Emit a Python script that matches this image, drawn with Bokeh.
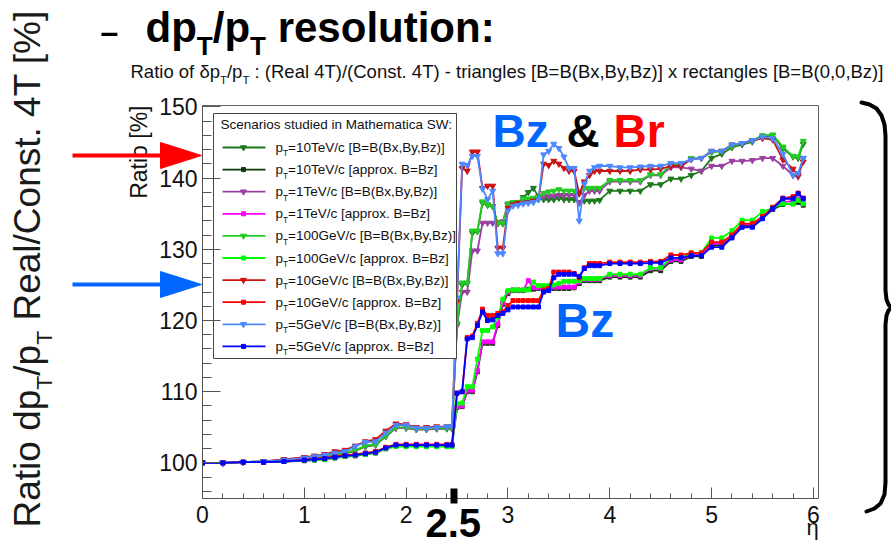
import math
from bokeh.plotting import figure
from bokeh.models import FixedTicker, Range1d, ColumnDataSource
from bokeh.core.properties import value
from bokeh.embed import file_html
from bokeh.resources import INLINE

FONT = "Liberation Sans"

# ---------------- data ----------------
ETA = [0.0, 0.2, 0.4, 0.6, 0.8, 1.0, 1.1, 1.2, 1.3, 1.4, 1.5, 1.6, 1.7, 1.8, 1.9, 2.0, 2.1, 2.2, 2.3, 2.4, 2.45,
       2.5, 2.55, 2.6, 2.65, 2.7, 2.75, 2.8, 2.85, 2.9, 2.95, 3.0, 3.05, 3.1, 3.15, 3.2, 3.25, 3.3, 3.35, 3.4,
       3.45, 3.5, 3.55, 3.6, 3.65, 3.7, 3.75, 3.8, 3.85, 3.9,
       4.0, 4.1, 4.2, 4.3, 4.4, 4.5, 4.6, 4.7, 4.8, 4.9, 5.0, 5.1, 5.2, 5.3, 5.4, 5.5, 5.6, 5.7, 5.8, 5.85, 5.9]

PT10TEV_FULL = [100.0, 100.0, 100.1, 100.2, 100.4, 100.6, 100.8, 100.9, 101.2, 101.3, 101.7, 102.3, 102.5, 103.7, 104.9, 104.9, 104.7, 104.7, 104.8, 104.8, 104.8,
                119.5, 125.0, 125.2, 132.3, 132.5, 136.5, 136.2, 136.0, 133.6, 133.6, 136.2, 136.5, 136.6, 137.3, 138.0, 138.6, 137.4, 137.0, 137.0, 137.0, 137.2, 137.0, 137.0, 137.0, 136.6, 136.8, 136.8, 136.8, 136.9,
                138.2, 138.2, 138.2, 138.2, 139.1, 139.1, 139.9, 139.9, 140.4, 141.0, 142.8, 143.4, 144.3, 144.7, 145.1, 145.8, 146.0, 144.2, 143.0, 142.8, 144.8]
PT10TEV_APPROX = [100.0, 100.0, 100.1, 100.1, 100.2, 100.3, 100.4, 100.5, 100.7, 100.9, 101.0, 101.2, 101.4, 102.0, 102.4, 102.5, 102.4, 102.4, 102.4, 102.4, 102.4,
                  107.8, 107.9, 110.0, 110.0, 112.8, 116.8, 116.8, 116.8, 119.3, 122.3, 123.8, 124.2, 124.2, 124.2, 124.4, 124.4, 124.5, 124.5, 124.5, 124.5, 124.5, 124.5, 124.5, 124.6, 125.2, 125.6, 125.6, 125.6, 125.6,
                  126.1, 126.1, 126.1, 126.1, 127.0, 127.0, 128.3, 128.3, 129.0, 129.0, 130.6, 130.6, 131.8, 133.3, 133.3, 134.4, 135.6, 136.3, 136.4, 136.6, 136.2]
PT1TEV_FULL = [100.0, 100.0, 100.1, 100.2, 100.4, 100.6, 100.8, 101.0, 101.2, 101.4, 101.8, 102.3, 102.6, 103.8, 104.9, 104.9, 104.7, 104.7, 104.8, 104.9, 104.9,
               119.3, 124.0, 124.0, 129.8, 129.8, 133.7, 133.7, 133.7, 133.8, 133.9, 136.4, 136.5, 136.5, 136.8, 136.9, 137.0, 137.2, 137.4, 137.5, 137.5, 137.6, 137.6, 137.6, 137.6, 136.5, 137.6, 138.2, 138.2, 138.2,
               139.5, 139.5, 139.5, 139.5, 140.4, 140.4, 141.5, 141.5, 141.3, 141.0, 141.7, 141.7, 142.4, 142.4, 142.5, 142.8, 142.8, 141.7, 140.4, 140.2, 142.8]
PT1TEV_APPROX = [100.0, 100.0, 100.1, 100.1, 100.2, 100.4, 100.5, 100.6, 100.7, 100.9, 101.0, 101.2, 101.4, 102.0, 102.4, 102.4, 102.4, 102.4, 102.4, 102.4, 102.4,
                 107.9, 108.0, 110.2, 110.2, 113.0, 117.0, 117.0, 117.0, 119.5, 122.5, 124.0, 124.3, 124.3, 124.3, 125.6, 124.6, 124.6, 124.7, 124.7, 124.7, 124.7, 124.7, 124.7, 124.7, 125.4, 125.8, 125.8, 125.8, 125.8,
                 126.3, 126.3, 126.3, 126.3, 127.3, 127.3, 128.5, 128.5, 129.2, 129.2, 130.8, 130.8, 132.0, 133.5, 133.5, 134.6, 135.8, 136.6, 136.8, 137.0, 136.4]
PT100GEV_FULL = [100.0, 100.0, 100.1, 100.2, 100.4, 100.7, 100.8, 101.0, 101.2, 101.4, 101.8, 102.4, 102.6, 103.8, 105.0, 105.0, 104.8, 104.8, 104.9, 104.9, 104.9,
                 119.6, 125.3, 125.3, 132.6, 132.6, 136.7, 136.3, 136.0, 133.7, 133.7, 136.4, 136.6, 136.6, 137.1, 137.1, 137.2, 137.3, 137.9, 138.1, 138.2, 138.4, 138.2, 138.2, 138.2, 138.0, 138.6, 138.6, 138.6, 138.6,
                 139.7, 139.7, 139.7, 139.7, 140.5, 140.5, 141.9, 141.9, 142.8, 142.8, 143.6, 143.8, 144.5, 144.9, 145.3, 146.0, 146.1, 144.4, 143.1, 143.0, 145.2]
PT100GEV_APPROX = [100.0, 100.0, 100.1, 100.1, 100.2, 100.4, 100.4, 100.5, 100.7, 100.9, 101.0, 101.2, 101.4, 102.0, 102.3, 102.3, 102.3, 102.3, 102.3, 102.3, 102.3,
                   108.3, 108.4, 110.7, 110.7, 114.6, 118.6, 118.6, 119.1, 120.5, 123.0, 124.2, 124.3, 124.3, 124.3, 124.3, 125.4, 124.9, 124.9, 124.9, 125.0, 125.2, 125.5, 125.5, 125.5, 125.6, 125.9, 125.9, 125.9, 125.9,
                   126.5, 126.5, 126.5, 126.5, 127.4, 127.4, 128.8, 128.8, 129.5, 129.5, 131.6, 131.6, 132.6, 134.1, 134.1, 135.3, 135.8, 136.4, 136.4, 136.9, 136.4]
PT10GEV_FULL = [100.0, 100.0, 100.1, 100.2, 100.5, 100.8, 101.0, 101.2, 101.6, 101.8, 102.4, 103.0, 103.3, 104.5, 105.5, 105.4, 105.0, 105.0, 105.1, 105.1, 105.1,
                122.7, 141.4, 141.0, 143.7, 143.7, 138.6, 138.9, 138.9, 130.2, 130.2, 135.8, 136.3, 136.5, 136.5, 136.6, 136.8, 137.0, 142.0, 141.8, 142.4, 142.0, 141.4, 141.0, 141.0, 137.8, 139.5, 140.4, 141.0, 141.0,
                141.0, 141.0, 141.0, 141.2, 141.2, 141.3, 141.7, 141.7, 142.6, 142.8, 143.8, 143.8, 144.7, 144.9, 145.3, 145.6, 145.4, 142.6, 141.3, 140.4, 142.3]
PT10GEV_APPROX = [100.0, 100.0, 100.1, 100.1, 100.3, 100.5, 100.6, 100.7, 100.9, 101.1, 101.2, 101.4, 101.6, 102.2, 102.6, 102.6, 102.6, 102.6, 102.6, 102.6, 102.6,
                  109.8, 110.0, 117.6, 117.8, 119.6, 121.6, 120.7, 120.7, 121.0, 121.2, 122.1, 122.8, 122.8, 122.8, 122.8, 122.8, 122.8, 124.3, 124.5, 126.8, 126.8, 126.8, 126.8, 126.6, 126.0, 127.4, 128.0, 128.0, 128.0,
                  128.2, 128.2, 128.2, 128.2, 128.3, 128.3, 129.2, 129.2, 129.5, 129.5, 131.0, 131.0, 132.0, 133.6, 133.6, 134.6, 135.9, 137.2, 137.4, 137.9, 137.2]
PT5GEV_FULL = [100.0, 100.0, 100.1, 100.2, 100.4, 100.7, 100.9, 101.1, 101.4, 101.6, 102.3, 102.9, 103.0, 104.2, 105.3, 105.3, 104.9, 104.9, 105.0, 105.1, 105.1,
               123.2, 142.0, 141.8, 143.1, 143.1, 138.5, 137.0, 138.2, 129.4, 129.4, 135.4, 136.1, 136.2, 136.4, 136.5, 136.6, 137.0, 143.3, 143.8, 144.8, 144.2, 143.0, 141.4, 141.4, 134.0, 139.2, 141.0, 141.5, 141.7,
               141.7, 141.5, 141.5, 141.6, 141.7, 141.7, 142.1, 142.1, 142.6, 142.8, 143.8, 143.8, 144.7, 144.9, 145.3, 145.8, 145.6, 143.4, 140.4, 140.7, 142.8]
PT5GEV_APPROX = [100.0, 100.0, 100.1, 100.1, 100.2, 100.4, 100.5, 100.6, 100.8, 101.0, 101.1, 101.3, 101.5, 102.1, 102.5, 102.5, 102.5, 102.5, 102.5, 102.5, 102.5,
                 109.8, 110.0, 117.4, 117.6, 119.3, 121.2, 120.0, 120.1, 120.7, 121.0, 121.5, 121.9, 121.9, 121.9, 121.9, 121.9, 121.9, 124.0, 124.2, 126.0, 126.5, 126.5, 126.5, 126.5, 126.2, 127.3, 127.7, 127.7, 127.7,
                 128.0, 128.0, 128.0, 128.0, 128.1, 128.1, 128.8, 128.8, 129.1, 129.1, 130.3, 130.3, 131.6, 133.1, 133.1, 134.3, 135.7, 137.1, 137.1, 137.8, 137.1]

LEGEND_LABELS = ["=10TeV/c [B=B(Bx,By,Bz)]", "=10TeV/c [approx. B=Bz]",
                 "=1TeV/c [B=B(Bx,By,Bz)]", "=1TeV/c [approx. B=Bz]",
                 "=100GeV/c [B=B(Bx,By,Bz)]", "=100GeV/c [approx. B=Bz]",
                 "=10GeV/c [B=B(Bx,By,Bz)]", "=10GeV/c [approx. B=Bz]",
                 "=5GeV/c [B=B(Bx,By,Bz)]", "=5GeV/c [approx. B=Bz]"]
SERIES_VALUES = [PT10TEV_FULL, PT10TEV_APPROX, PT1TEV_FULL, PT1TEV_APPROX, PT100GEV_FULL,
                 PT100GEV_APPROX, PT10GEV_FULL, PT10GEV_APPROX, PT5GEV_FULL, PT5GEV_APPROX]
COLORS = ["#1f7a1f", "#0b3b0b", "#9b40a3", "#ff00ff", "#22cc22",
          "#00ff00", "#cc1111", "#ff0000", "#4d88ff", "#0000ff"]
FULL_B = [True, False, True, False, True, False, True, False, True, False]

X_TICKS = [0, 1, 2, 3, 4, 5, 6]
Y_TICKS = [100, 110, 120, 130, 140, 150]

for v in SERIES_VALUES:
    assert len(v) == len(ETA), len(v)

# ---------------- layout helpers ----------------
W, H = 891, 547
FL, FR, FT, FB = 202, 818, 105, 498          # frame edges in picture pixels
X0, X1, Y0, Y1 = 0.0, 6.05, 95.0, 150.2
KB = 0.37                                     # baseline correction of the text glyph (em)


def dx(px):
    return X0 + (px - FL) * (X1 - X0) / (FR - FL)


def dy(py):
    return Y1 - (py - FT) * (Y1 - Y0) / (FB - FT)


REG = {' ': .278, '!': .278, '%': .889, '&': .667, '(': .333, ')': .333, ',': .278, '-': .333, '.': .278,
       '/': .278, ':': .278, '=': .584, '[': .278, ']': .278, 'A': .667, 'B': .667, 'C': .722, 'M': .833,
       'R': .722, 'S': .667, 'T': .611, 'V': .667, 'W': .944, 'c': .5, 'f': .278, 'i': .222, 'l': .222,
       'm': .833, 'r': .333, 's': .5, 't': .278, 'x': .5, 'y': .5, 'z': .5, 'k': .5, 'j': .222, 'v': .5}
BOLD = {' ': .278, ':': .333, '/': .278, '.': .278, 'd': .611, 'p': .611, 'r': .389, 's': .556, 'o': .611,
        'l': .278, 'u': .611, 't': .333, 'i': .278, 'n': .611, 'T': .611, 'B': .722, 'z': .5, '&': .722}


def tw(text, bold=False):
    table = BOLD if bold else REG
    return sum(table.get(c, .556) for c in text)


TXT = dict(x=[], y=[], text=[], size=[], style=[], color=[], angle=[])


def run(parts, x_px, y_px, size, bold=False, color="black", angle=0.0):
    """Lay out a run of text pieces (subscripts allowed); y_px is the baseline."""
    cur = 0.0
    for text, sub in parts:
        s = size * 0.62 if sub else size
        off = size * 0.3 if sub else 0.0
        lead = len(text) - len(text.lstrip(" "))
        cur += lead * 0.278 * s
        text = text.lstrip(" ")
        if angle == 0.0:
            lx, ly = x_px + cur, y_px + off - KB * s
        else:
            lx, ly = x_px + off - KB * s, y_px - cur
        TXT["x"].append(dx(lx))
        TXT["y"].append(dy(ly))
        TXT["text"].append(text)
        TXT["size"].append(f"{s:.1f}px")
        TXT["style"].append("bold" if bold else "normal")
        TXT["color"].append(color)
        TXT["angle"].append(angle)
        cur += tw(text, bold) * s


p = figure(width=W, height=H, x_range=Range1d(X0, X1), y_range=Range1d(Y0, Y1),
           output_backend="svg", toolbar_location=None,
           min_border_left=FL, min_border_right=W - FR,
           min_border_top=FT, min_border_bottom=H - FB)
p.grid.visible = False
p.outline_line_color = "#666666"
p.border_fill_color = "white"

# ---------------- axes ----------------
for ax in (p.xaxis[0], p.yaxis[0]):
    ax.axis_line_color = "#555555"
    ax.major_tick_line_color = "#555555"
    ax.minor_tick_line_color = "#555555"
    ax.major_tick_out = 0
    ax.minor_tick_out = 0
    ax.major_label_text_font = FONT
    ax.major_label_text_font_size = "23px"
    ax.major_label_text_color = "#111111"
p.xaxis.ticker = FixedTicker(ticks=X_TICKS, minor_ticks=[round(i * 0.2, 1) for i in range(31)])
p.yaxis.ticker = FixedTicker(ticks=Y_TICKS, minor_ticks=list(range(96, 151, 2)))
p.xaxis.major_tick_in = 11
p.xaxis.minor_tick_in = 5
p.yaxis.major_tick_in = 18
p.yaxis.minor_tick_in = 9
p.xaxis.major_label_standoff = 7
p.yaxis.major_label_standoff = 5

# ---------------- curves ----------------
for vals, col, full in zip(SERIES_VALUES, COLORS, FULL_B):
    p.line(ETA, vals, line_color=col, line_width=1.8)
    if full:
        p.scatter(ETA, vals, marker="inverted_triangle", size=6, color=col)
    else:
        p.scatter(ETA, vals, marker="square", size=4, color=col)

# ---------------- legend (drawn by hand for the subscripts) ----------------
p.quad(left=dx(213), right=dx(456), top=dy(113), bottom=dy(358),
       fill_color="white", line_color="#444444", line_width=1)
run([("Scenarios studied in Mathematica SW:", 0)], 220, 129, 13.5, color="#111111")
for i, (lab, col, full) in enumerate(zip(LEGEND_LABELS, COLORS, FULL_B)):
    yc = 147 + 22.1 * i
    p.line([dx(222), dx(265)], [dy(yc), dy(yc)], line_color=col, line_width=1.8)
    if full:
        p.scatter([dx(243)], [dy(yc)], marker="inverted_triangle", size=6, color=col)
    else:
        p.scatter([dx(243)], [dy(yc)], marker="square", size=4, color=col)
    run([("p", 0), ("T", 1), (lab, 0)], 275, yc + 5, 13.5, color="#111111")

# ---------------- texts around the plot ----------------
run([("\u2013", 0)], 100, 43, 32, bold=True)
run([("dp", 0), ("T", 1), ("/p", 0), ("T", 1), (" resolution:", 0)], 145, 43, 42, bold=True)
run([("Ratio of \u03b4p", 0), ("T", 1), ("/p", 0), ("T", 1),
     (" : (Real 4T)/(Const. 4T) - triangles [B=B(Bx,By,Bz)] x rectangles [B=B(0,0,Bz)]", 0)],
    130, 78, 18.5, color="#111111")
run([("Ratio dp", 0), ("T", 1), ("/p", 0), ("T", 1), (" Real/Const. 4T [%]", 0)],
    41, 527, 37, color="#1a1a1a", angle=math.pi / 2)
run([("Ratio [%]", 0)], 147, 105 + tw("Ratio [%]") * 23, 23, color="#111111", angle=math.pi / 2)
run([("\u03b7", 0)], 806, 535, 22, color="#111111")
run([("Bz", 0)], 492, 148, 46, bold=True, color="#0066ff")
run([("&", 0)], 566, 148, 46, bold=True, color="black")
run([("Br", 0)], 613, 148, 46, bold=True, color="#ff0000")
run([("Bz", 0)], 555, 338, 48, bold=True, color="#0066ff")
run([("2.5", 0)], 425, 537, 40, bold=True)

# 2.5 marker
p.quad(left=dx(450), right=dx(457), top=dy(488), bottom=dy(503), fill_color="black",
       line_color=None, level="overlay")

# brace on the right
BX = [861, 869, 876, 881, 884, 885, 885, 886, 888, 891, 888, 886, 885, 885, 884, 880, 874, 866]
BY = [102, 104, 108, 115, 124, 135, 290, 299, 304, 307, 310, 315, 324, 482, 494, 503, 508, 511]
p.line([dx(v) for v in BX], [dy(v) for v in BY], line_color="black", line_width=4,
       line_join="round", line_cap="round", level="overlay")

# all texts in one text glyph, drawn above the curves
p.text(x="x", y="y", text="text", source=ColumnDataSource(TXT), text_font=value(FONT),
       text_font_size="size", text_font_style="style", text_color="color", angle="angle",
       text_align="left", text_baseline="alphabetic", level="overlay")

# arrows (shafts + heads), drawn over the axis title like in the slide
AR_Y = [155, 284]
AR_COL = ["#ff0000", "#0066ff"]
for yy, col in zip(AR_Y, AR_COL):
    p.line([dx(72), dx(164)], [dy(yy), dy(yy)], line_color=col, line_width=4, level="overlay")
    p.patch([dx(160), dx(201), dx(160)], [dy(yy - 13), dy(yy), dy(yy + 13)],
            fill_color=col, line_color=col, level="overlay")

open("out.html", "w").write(file_html(p, INLINE))
